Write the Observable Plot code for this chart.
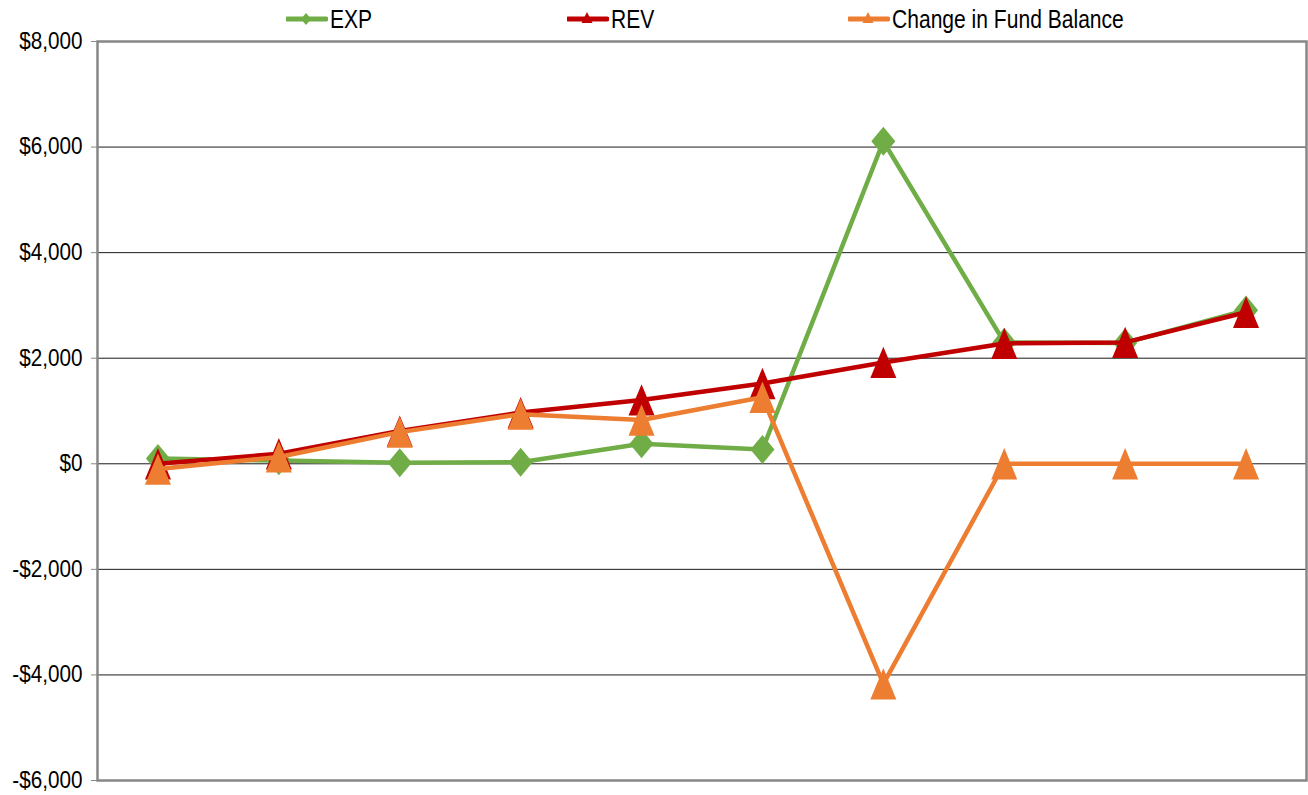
<!DOCTYPE html>
<html>
<head>
<meta charset="utf-8">
<script src="https://cdn.jsdelivr.net/npm/d3@7"></script>
<script src="https://cdn.jsdelivr.net/npm/@observablehq/plot@0.6"></script>
<style>
  body { margin: 0; background: #fff; font-family: "Liberation Sans", Arial, sans-serif; }
  #legend { position: relative; height: 24px; width: 1308px; }
  .item { position: absolute; top: 4px; height: 30px; display: flex; align-items: center; font-size: 26px; color: #000; white-space: nowrap; }
  .item svg { margin-right: 2px; flex: none; }
  .item span { display: inline-block; transform: scaleX(0.81); transform-origin: left center; }
  #chart svg { overflow: visible; }
</style>
</head>
<body>
<div id="legend"></div>
<div id="chart"></div>
<script>
const categories = ["1", "2", "3", "4", "5", "6", "7", "8", "9", "10"];
const expValues = [100, 60, 20, 30, 380, 270, 6110, 2300, 2290, 2910];
const revValues = [0, 190, 620, 970, 1210, 1520, 1920, 2280, 2300, 2870];
const chgValues = [-100, 130, 600, 940, 830, 1260, -4170, 0, 0, 0];
const seriesNames = ["EXP", "REV", "Change in Fund Balance"];
const seriesColors = ["#70AD47", "#C00000", "#ED7D31"];
const yTicks = [-6000, -4000, -2000, 0, 2000, 4000, 6000, 8000];

const diamond = { draw(ctx, size) { const r = Math.sqrt(size / Math.PI); const w = r * 0.86, h = r * 1.04;
  ctx.moveTo(0, -h); ctx.lineTo(w, 0); ctx.lineTo(0, h); ctx.lineTo(-w, 0); ctx.closePath(); } };
const triangle = { draw(ctx, size) { const r = Math.sqrt(size / Math.PI); const w = r * 0.93, h = r * 1.12;
  ctx.moveTo(0, -h); ctx.lineTo(w, h); ctx.lineTo(-w, h); ctx.closePath(); } };

const toRows = vals => categories.map((c, i) => ({ c, v: vals[i] }));
const series = [
  { name: seriesNames[0], color: seriesColors[0], rows: toRows(expValues), sym: diamond },
  { name: seriesNames[1], color: seriesColors[1], rows: toRows(revValues), sym: triangle },
  { name: seriesNames[2], color: seriesColors[2], rows: toRows(chgValues), sym: triangle }
];

const fmt = d => (d < 0 ? "-" : "") + "$" + d3.format(",")(Math.abs(d));

const marks = [
  Plot.ruleY(yTicks.filter(t => t > -6000 && t < 8000), { stroke: "#1a1a1a", strokeWidth: 1 }),
  Plot.frame({ stroke: "#878787", strokeWidth: 2.5 }),
  Plot.axisY({ ticks: yTicks, tickFormat: fmt, tickSize: 6, tickPadding: 9, stroke: "#878787",
    fontSize: 23, label: null, fill: "#000" })
];
for (const s of series) {
  marks.push(Plot.line(s.rows, { x: "c", y: "v", stroke: s.color, strokeWidth: 4.5, strokeLinejoin: "round" }));
  marks.push(Plot.dot(s.rows, { x: "c", y: "v", symbol: () => s.sym, fill: s.color, stroke: "none", r: 14 }));
}

const chart = Plot.plot({
  width: 1308,
  height: 771,
  marginTop: 17,
  marginBottom: 15,
  marginLeft: 97,
  marginRight: 2,
  style: { fontFamily: "'Liberation Sans', Arial, sans-serif", background: "#fff" },
  x: { type: "point", domain: categories, padding: 0.5, round: false, axis: null },
  y: { domain: [-6000, 8000], ticks: yTicks, axis: null },
  marks
});
document.getElementById("chart").appendChild(chart);

// condense y tick labels (Excel's narrow look) around their right anchor
chart.querySelectorAll('g[aria-label="y-axis tick label"] text').forEach(t => {
  const tr = t.getAttribute("transform") || "";
  t.setAttribute("transform", tr + " scale(0.9,1)");
});

// legend
const legend = document.getElementById("legend");
const lefts = [286, 567, 848];
series.forEach((s, i) => {
  const item = document.createElement("div");
  item.className = "item";
  item.style.left = lefts[i] + "px";
  const marker = s.sym === diamond
    ? `<path d="M20,9 L25,15 L20,21 L15,15 Z" fill="${s.color}"/>`
    : `<path d="M20,8 L25.5,19 L14.5,19 Z" fill="${s.color}"/>`;
  item.innerHTML = `<svg width="42" height="30"><line x1="1" y1="15" x2="40" y2="15" stroke="${s.color}" stroke-width="5" stroke-linecap="round"/>${marker}</svg><span>${s.name}</span>`;
  legend.appendChild(item);
});
</script>
</body>
</html>
